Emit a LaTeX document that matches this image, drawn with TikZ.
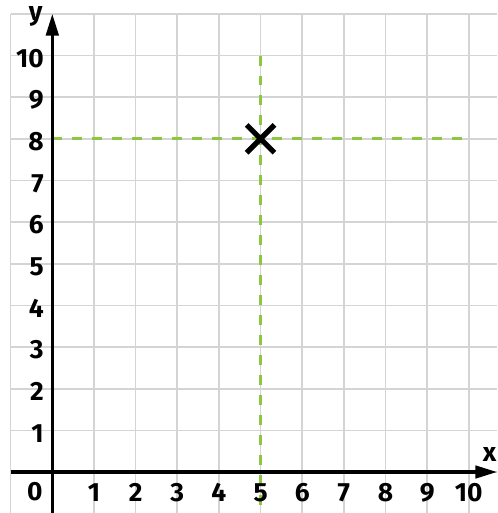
\documentclass[tikz,border=0pt]{standalone}
\usepackage{fontspec}
\setmainfont{Fira Sans}
\usepackage{tikz}
\usetikzlibrary{arrows.meta, shapes.misc}
\definecolor{gridgray}{RGB}{212, 212, 212}
\definecolor{guidegreen}{RGB}{141, 198, 63}
\tikzset{
  gridline/.style={gridgray, line width=1.1pt},
  axis/.style={black, line width=2.1pt, -{Triangle[length=5.2mm, width=3mm]}},
  guide/.style={guidegreen, line width=1.8pt, dash pattern=on 0.24cm off 0.24cm},
  tick/.style={font=\fontsize{18}{18}\selectfont\bfseries, inner sep=0pt},
  mark point/.style={cross out, draw=black, line width=3.6pt, minimum size=0.54cm, inner sep=0pt},
}

\begin{document}
\begin{tikzpicture}
    \useasboundingbox (-1.256,-0.984) rectangle (10.677,11.333);
    % squared paper
    \draw[gridline] (-1,-1) grid (10.677,11);
    % guide lines to the point
    \draw[guide] (5,10) -- (5,-0.984);
    \draw[guide] (0,8) -- (10,8);
    % axes
    \coordinate (xstart) at (-1,0);
    \coordinate (xend) at (10.677,0);
    \coordinate (ystart) at (0,-0.984);
    \coordinate (yend) at (0,11);
    \draw[axis] (xstart) -- (xend);
    \draw[axis] (ystart) -- (yend);
    \node[tick] (xlab) at (10.5,0.42) {x};
    \node[tick] (ylab) at (-0.4,10.93) {y};
    \node[tick] (o) at (-0.42,-0.47) {0};
    \foreach \k in {1,...,10} {
      \node[tick] (x\k) at (\k,-0.5) {\k};
      \node[tick, anchor=east] (y\k) at (-0.2,\k-0.07) {\k};
    }
    % the point (5,8)
    \node[mark point] (pt) at (5,8) {};
  \end{tikzpicture}
\end{document}
